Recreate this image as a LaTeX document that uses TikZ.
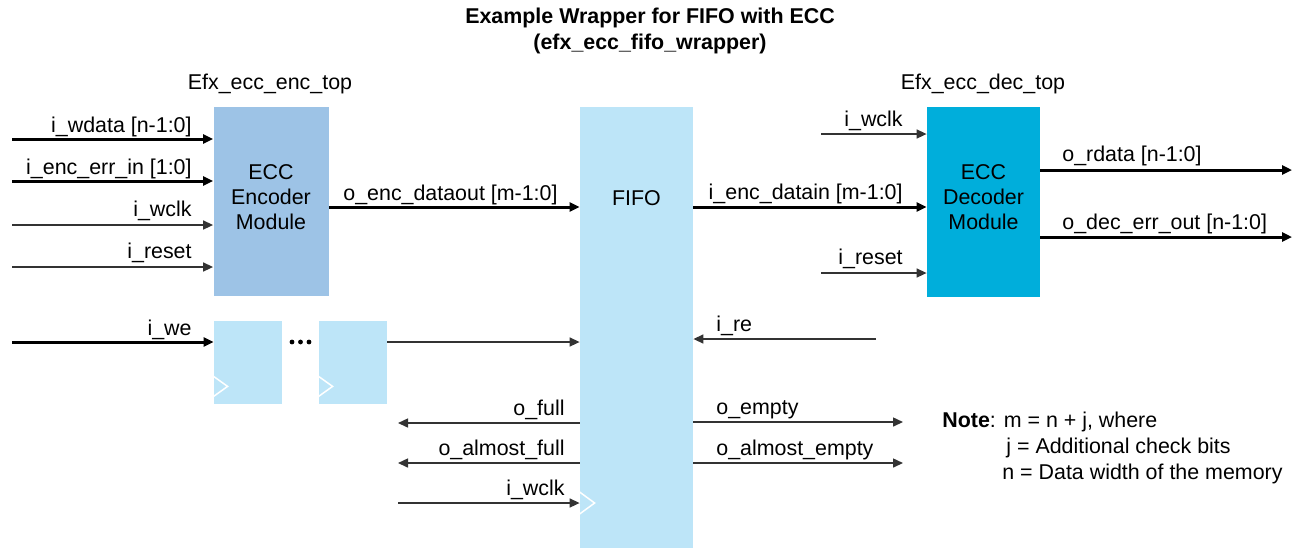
\documentclass[tikz,border=0pt]{standalone}
\usepackage{fontspec}
\setmainfont{Liberation Sans}
\usetikzlibrary{arrows.meta,calc}
\definecolor{encblue}{HTML}{9DC3E6}
\definecolor{fifoblue}{HTML}{BDE5F8}
\definecolor{decblue}{HTML}{00AEDB}
\definecolor{thinline}{HTML}{333333}
\begin{document}
\begin{tikzpicture}[x=0.5pt,y=-0.5pt,
  font=\fontsize{10.7}{12.5}\selectfont,
  thk/.style={line width=1.5pt,-{Triangle[length=5pt,width=4.5pt]}},
  thn/.style={line width=0.75pt,draw=thinline,-{Triangle[length=5pt,width=4.5pt]}},
  lbl/.style={inner sep=0pt},
  blk/.style={draw=none,inner sep=0pt,align=center},
  clk/.style={white,line width=0.75pt}]
\useasboundingbox (0,0) rectangle (1299,548);

% title
\node[lbl,align=center,font=\fontsize{10.7}{13}\selectfont\bfseries] (title) at (650,31)
  {Example Wrapper for FIFO with ECC\\(efx\_ecc\_fifo\_wrapper)};
\node[lbl,anchor=base] (enctop) at (270,89) {Efx\_ecc\_enc\_top};
\node[lbl,anchor=base] (dectop) at (983,89) {Efx\_ecc\_dec\_top};

% blocks
\node[blk,fill=encblue,minimum width=57.5pt,minimum height=94.5pt] (enc) at (271,201.5) {};
\node[lbl,align=center] (enctxt) at (271,197) {ECC\\Encoder\\Module};
\node[blk,fill=fifoblue,minimum width=56.5pt,minimum height=220.5pt] (fifo) at (636.5,327.5) {};
\node[lbl] (fifotxt) at (636.5,198) {FIFO};
\node[blk,fill=decblue,minimum width=56.5pt,minimum height=95pt] (dec) at (983.5,202) {};
\node[lbl,align=center] (dectxt) at (983.5,197) {ECC\\Decoder\\Module};
\node[blk,fill=fifoblue,minimum width=34pt,minimum height=41.5pt] (f1) at (248,362.5) {};
\node[blk,fill=fifoblue,minimum width=34pt,minimum height=41.5pt] (f2) at (353,362.5) {};

% clock chevrons
\draw[clk] ($(f1.south west)+(0,-28)$) -- ++(14,10) -- ++(-14,10);
\draw[clk] ($(f2.south west)+(0,-28)$) -- ++(14,10) -- ++(-14,10);

% dots
\fill (292,342) circle (2.4) (300.5,342) circle (2.4) (309,342) circle (2.4);

% encoder inputs
\coordinate (wdata) at (12,139);
\coordinate (errin) at (12,181);
\coordinate (wclk1) at (12,225);
\coordinate (rst1)  at (12,267);
\draw[thk] (wdata) -- (wdata -| enc.west);
\draw[thk] (errin) -- (errin -| enc.west);
\draw[thn] (wclk1) -- (wclk1 -| enc.west);
\draw[thn] (rst1) -- (rst1 -| enc.west);
\node[lbl,anchor=base east] (lwdata) at (192,132) {i\_wdata [n-1:0]};
\node[lbl,anchor=base east] (lerrin) at (192,174) {i\_enc\_err\_in [1:0]};
\node[lbl,anchor=base east] (lwclk1) at (192,216) {i\_wclk};
\node[lbl,anchor=base east] (lrst1) at (192,258) {i\_reset};

% encoder -> fifo
\coordinate (encout) at (enc.east |- 0,207);
\draw[thk] (encout) -- (encout -| fifo.west);
\node[lbl,anchor=base west] (lencout) at (343,200) {o\_enc\_dataout [m-1:0]};

% we chain
\coordinate (iwe) at (12,342);
\draw[thk] (iwe) -- (iwe -| f1.west);
\node[lbl,anchor=base east] (liwe) at (192,335) {i\_we};
\draw[thn] (f2.east |- iwe) -- (iwe -| fifo.west);

% fifo left outputs
\coordinate (ofull) at (398,423);
\coordinate (oafull) at (398,463);
\coordinate (wclk2) at (398,503);
\draw[thn] (ofull -| fifo.west) -- (ofull);
\draw[thn] (oafull -| fifo.west) -- (oafull);
\draw[thn] (wclk2) -- (wclk2 -| fifo.west);
\node[lbl,anchor=base east] (lofull) at (565,415) {o\_full};
\node[lbl,anchor=base east] (loafull) at (565,455) {o\_almost\_full};
\node[lbl,anchor=base east] (lwclk2) at (565,495) {i\_wclk};
\draw[clk] ($(wclk2 -| fifo.west)+(0,-11)$) -- ++(15,11) -- ++(-15,11);

% fifo -> decoder
\coordinate (encin) at (fifo.east |- 0,207);
\draw[thk] (encin) -- (encin -| dec.west);
\node[lbl,anchor=base east] (lencin) at (903,199) {i\_enc\_datain [m-1:0]};
\coordinate (wclk3) at (821,134);
\coordinate (rst3) at (821,273);
\draw[thn] (wclk3) -- (wclk3 -| dec.west);
\draw[thn] (rst3) -- (rst3 -| dec.west);
\node[lbl,anchor=base east] (lwclk3) at (903,126) {i\_wclk};
\node[lbl,anchor=base east] (lrst3) at (903,264) {i\_reset};

% decoder outputs
\coordinate (rdata) at (1292,170);
\coordinate (decerr) at (1292,237);
\draw[thk] (rdata -| dec.east) -- (rdata);
\draw[thk] (decerr -| dec.east) -- (decerr);
\node[lbl,anchor=base west] (lrdata) at (1062,161) {o\_rdata [n-1:0]};
\node[lbl,anchor=base west] (ldecerr) at (1062,229) {o\_dec\_err\_out [n-1:0]};

% fifo right side
\coordinate (ire) at (876,339);
\coordinate (oempty) at (903,422);
\coordinate (oaempty) at (903,463);
\draw[thn] (ire) -- (ire -| fifo.east);
\draw[thn] (oempty -| fifo.east) -- (oempty);
\draw[thn] (oaempty -| fifo.east) -- (oaempty);
\node[lbl,anchor=base west] (lire) at (716,331) {i\_re};
\node[lbl,anchor=base west] (loempty) at (716,414) {o\_empty};
\node[lbl,anchor=base west] (loaempty) at (716,455) {o\_almost\_empty};

% note
\node[lbl,anchor=base west] (note1) at (942,427) {\textbf{Note}: m = n + j, where};
\node[lbl,anchor=base west] (note2) at (1006,453) {j = Additional check bits};
\node[lbl,anchor=base west] (note3) at (1002,479) {n = Data width of the memory};
\end{tikzpicture}
\end{document}
